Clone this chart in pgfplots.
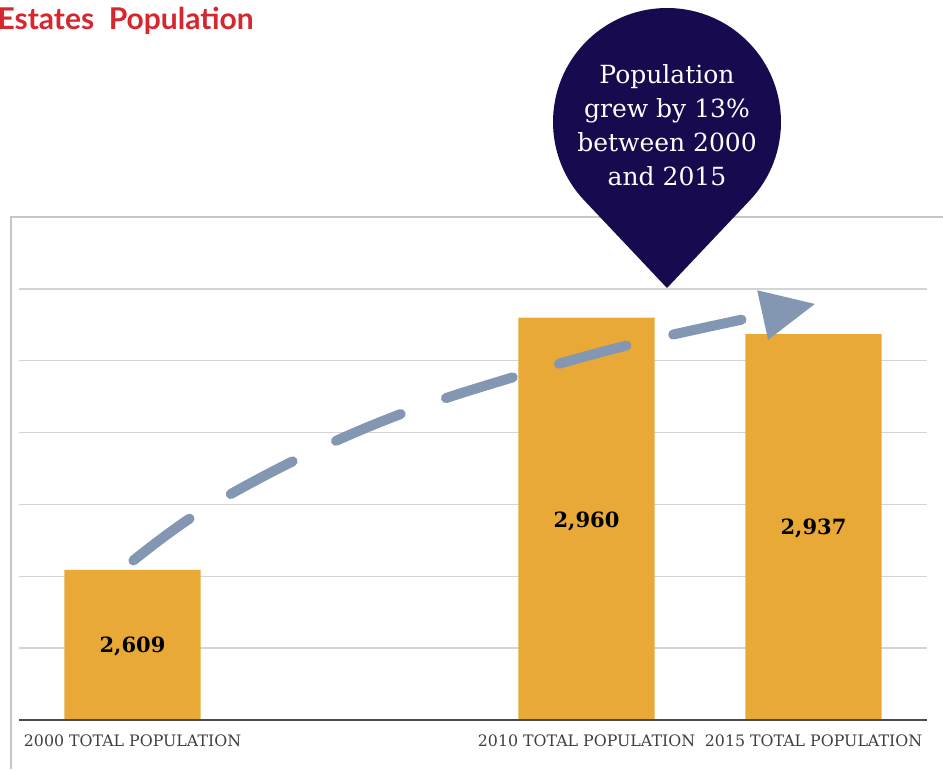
\documentclass[border=0pt]{standalone}
\usepackage{fontspec}
\usepackage{pgfplots}
\pgfplotsset{compat=1.18}
\usetikzlibrary{calc}
\newfontfamily\labelfont{DejaVu Serif}
\newfontfamily\titlefont{Lato}
\definecolor{barorange}{HTML}{E8A936}
\definecolor{navy}{HTML}{170A4F}
\definecolor{arrowblue}{HTML}{8397B2}
\definecolor{titlered}{HTML}{D6262E}
\definecolor{gridgray}{HTML}{D4D4D4}
\definecolor{framegray}{HTML}{C6C6C6}
\definecolor{basegray}{HTML}{4A4A4A}
\definecolor{labelgray}{HTML}{3F3F3F}
\begin{document}
\begin{tikzpicture}
\useasboundingbox (0pt,0pt) rectangle (943pt,769pt);
\draw[framegray, line width=2pt] (11pt,0pt) -- (11pt,552pt) -- (943pt,552pt);
\begin{axis}[
  at={(19pt,49pt)}, anchor=south west,
  scale only axis, width=908pt, height=503pt,
  xmin=1997.5, xmax=2017.5, ymin=2400, ymax=3100,
  axis line style={draw=none},
  xtick={2000,2010,2015},
  xticklabels={2000 TOTAL POPULATION, 2010 TOTAL POPULATION, 2015 TOTAL POPULATION},
  ytick={2500,2600,2700,2800,2900,3000}, yticklabels={},
  major tick length=0pt,
  ymajorgrids, grid style={gridgray, line width=1.5pt},
  xticklabel style={font=\labelfont\fontsize{15.8}{16}\selectfont, text=labelgray, yshift=-11pt},
]
\addplot[ybar, bar width=3, fill=barorange, draw=none] coordinates {(2000,2609) (2010,2960) (2015,2937)};
\draw[basegray, line width=3pt] (axis cs:1997.5,2400) -- (axis cs:2017.5,2400);
\node[font=\labelfont\bfseries\fontsize{21}{21}\selectfont] at (axis cs:2000,2503) {2,609};
\node[font=\labelfont\bfseries\fontsize{21}{21}\selectfont] at (axis cs:2010,2677) {2,960};
\node[font=\labelfont\bfseries\fontsize{21}{21}\selectfont] at (axis cs:2015,2666) {2,937};
\addplot[arrowblue, line width=10pt, line cap=round, dash pattern=on 70pt off 48pt, smooth, tension=0.6] coordinates {
 (2000.02,2622) (2001.45,2688) (2003.69,2765) (2006.00,2828) (2008.49,2879) (2011.00,2923) (2013.56,2959)};
\fill[arrowblue] (axis cs:2013.76,2998) -- (axis cs:2015.03,2979) -- (axis cs:2014.0,2929) -- cycle;
\end{axis}
\fill[navy] (667pt,481pt) -- ($(667pt,647pt)+(-43.4:114pt)$) arc[start angle=-43.4, end angle=223.4, radius=114pt] -- cycle;
\node[text=white, align=center, font=\labelfont\fontsize{25}{34}\selectfont] at (667pt,644pt) {Population\\grew by 13\%\\between 2000\\and 2015};
\node[anchor=base west, text=titlered, font=\titlefont\bfseries\fontsize{30}{34}\selectfont] at (-6pt,739pt) {Estates\ \ Population};
\end{tikzpicture}
\end{document}
